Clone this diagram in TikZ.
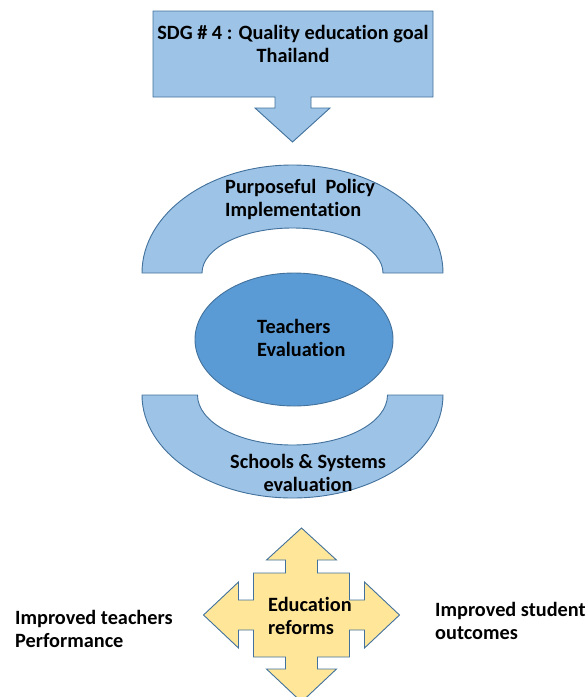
\documentclass[tikz,border=0pt]{standalone}
\usepackage{fontspec}
\setmainfont{Carlito}[Ligatures=NoCommon]
\usetikzlibrary{shapes.geometric}
\definecolor{lblue}{HTML}{9DC3E6}
\definecolor{mblue}{HTML}{5B9BD5}
\definecolor{edgeblue}{HTML}{41719C}
\definecolor{lyellow}{HTML}{FFE699}
\tikzset{
  shapeblue/.style={fill=lblue, draw=edgeblue, line width=0.9pt, line join=miter},
  shapeyellow/.style={fill=lyellow, draw=edgeblue, line width=0.9pt, line join=miter},
  lbl/.style={inner sep=0pt, font=\fontsize{20.3}{23}\selectfont\bfseries, text=black},
}
\begin{document}
\begin{tikzpicture}[x=1pt,y=1pt,yscale=-1]
\useasboundingbox (0,0) rectangle (587,697);
\clip (0,0) rectangle (587,697);
% top callout with arrow
\draw[shapeblue] (153,11) -- (433,11) -- (433,97) -- (311,97) -- (311,108) -- (330,108)
  -- (292.5,142) -- (255,108) -- (275,108) -- (275,97) -- (153,97) -- cycle;
\node[lbl, align=center] (sdg) at (293,44) {SDG \# 4 : Quality education goal\\Thailand};
% top arch
\draw[shapeblue] (142,273) arc[start angle=180, end angle=360, x radius=150.5, y radius=108]
  -- (383,273) arc[start angle=0, end angle=-180, x radius=90.5, y radius=45] -- cycle;
\node[lbl, align=left, anchor=west] (ppi) at (225,199) {Purposeful~ Policy\\Implementation};
% ellipse
\node[ellipse, fill=mblue, draw=edgeblue, line width=0.9pt, minimum width=198pt, minimum height=133pt, inner sep=0pt] (te) at (294,339.5) {};
\node[lbl, align=left, anchor=west] (tet) at (257,338) {Teachers\\Evaluation};
% bottom arch
\draw[shapeblue] (142,395) arc[start angle=180, end angle=0, x radius=150.5, y radius=103]
  -- (387.5,395) arc[start angle=0, end angle=180, x radius=95, y radius=50] -- cycle;
\node[lbl, align=center] (sse) at (308,472.5) {Schools \& Systems\\evaluation};
% cross arrow
\begin{scope}[shift={(301.5,615)}]
\draw[shapeyellow] (0,-87) -- (35,-55) -- (16,-55) -- (16,-42) -- (48,-42) -- (48,-15)
  -- (63,-15) -- (63,-33) -- (98,0) -- (63,33) -- (63,15) -- (48,15) -- (48,42)
  -- (16,42) -- (16,54) -- (35,54) -- (0,87) -- (-35,54) -- (-16,54) -- (-16,42)
  -- (-48,42) -- (-48,15) -- (-63,15) -- (-63,33) -- (-98,0) -- (-63,-33) -- (-63,-15)
  -- (-48,-15) -- (-48,-42) -- (-16,-42) -- (-16,-55) -- (-35,-55) -- cycle;
\end{scope}
\node[lbl, align=left, anchor=west] (er) at (268,616) {Education\\reforms};
\node[lbl, align=left, anchor=west] (itp) at (15,628.5) {Improved teachers\\Performance};
\node[lbl, align=left, anchor=west] (iso) at (435,621) {Improved student\\outcomes};
\end{tikzpicture}
\end{document}
